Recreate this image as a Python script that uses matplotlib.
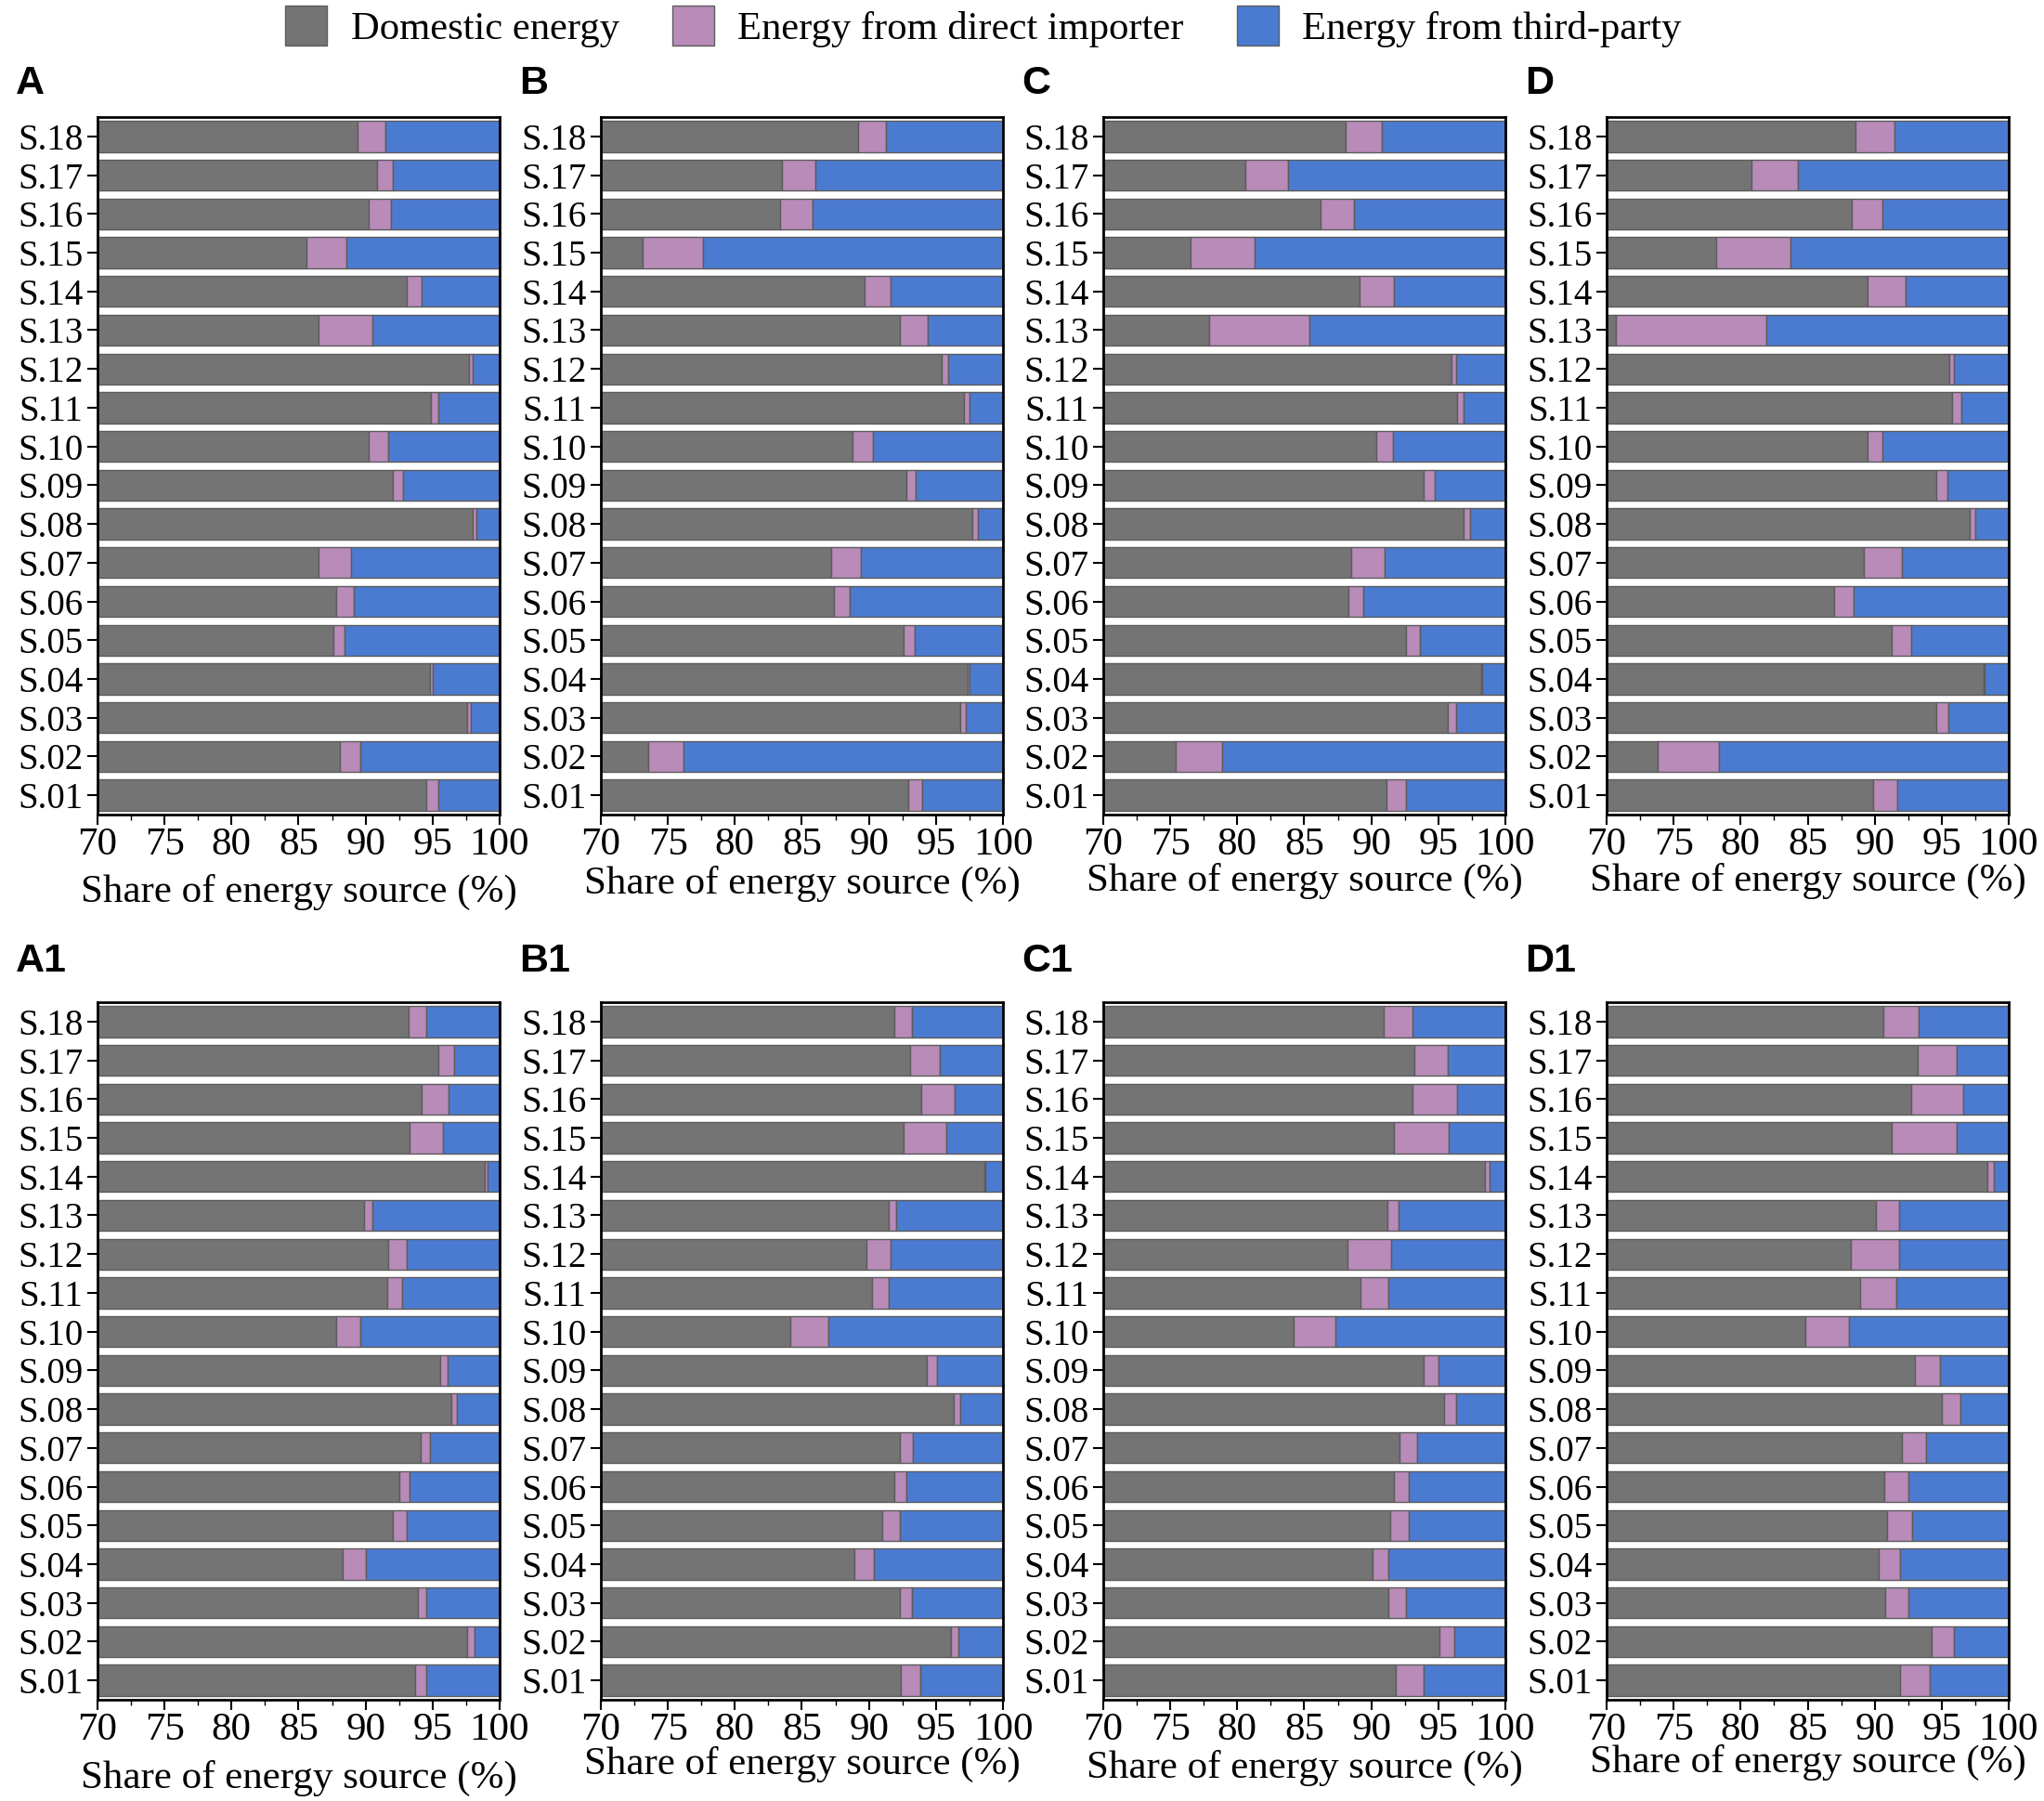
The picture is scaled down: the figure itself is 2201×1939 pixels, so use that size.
import numpy as np
import matplotlib
matplotlib.use('Agg')
import matplotlib.pyplot as plt
from matplotlib.patches import Patch
from matplotlib.ticker import MultipleLocator

plt.rcParams['font.family'] = ['Liberation Serif', 'DejaVu Serif']

sectors = ['S.%02d' % i for i in range(1, 19)]
series_names = ['Domestic energy', 'Energy from direct importer', 'Energy from third-party']
colors = ['#747474', '#b88bb9', '#4b7bd1']
edge = '#5c5c5c'

# domestic share and direct-importer share (%), S.01 ... S.18
dom_A = [94.5, 88.1, 97.6, 94.8, 87.6, 87.8, 86.5, 98.0, 92.05, 90.2, 94.9, 97.7, 86.5, 93.1, 85.6, 90.2, 90.85, 89.4]
imp_A = [0.9, 1.5, 0.25, 0.2, 0.8, 1.3, 2.4, 0.3, 0.75, 1.5, 0.5, 0.3, 4.0, 1.05, 3.0, 1.7, 1.15, 2.1]

dom_B = [92.9, 73.5, 96.8, 97.4, 92.6, 87.4, 87.2, 97.7, 92.8, 88.8, 97.1, 95.4, 92.3, 89.7, 73.1, 83.4, 83.5, 89.2]
imp_B = [1.1, 2.7, 0.4, 0.1, 0.8, 1.2, 2.2, 0.4, 0.7, 1.5, 0.4, 0.5, 2.1, 1.9, 4.5, 2.4, 2.5, 2.1]

dom_C = [91.1, 75.4, 95.7, 98.2, 92.6, 88.3, 88.5, 96.9, 93.9, 90.4, 96.4, 96.0, 77.9, 89.1, 76.5, 86.2, 80.6, 88.1]
imp_C = [1.5, 3.5, 0.6, 0.1, 1.0, 1.1, 2.5, 0.5, 0.8, 1.2, 0.5, 0.3, 7.5, 2.6, 4.8, 2.5, 3.2, 2.7]

dom_D = [89.9, 73.8, 94.6, 98.1, 91.3, 87.0, 89.2, 97.1, 94.6, 89.5, 95.8, 95.6, 70.7, 89.5, 78.2, 88.3, 80.8, 88.6]
imp_D = [1.8, 4.6, 0.9, 0.1, 1.4, 1.4, 2.8, 0.4, 0.8, 1.1, 0.7, 0.3, 11.2, 2.8, 5.5, 2.3, 3.5, 2.9]

dom_A1 = [93.7, 97.6, 93.9, 88.3, 92.0, 92.5, 94.1, 96.4, 95.6, 87.8, 91.6, 91.7, 89.9, 98.9, 93.3, 94.2, 95.4, 93.2]
imp_A1 = [0.8, 0.5, 0.6, 1.7, 1.1, 0.8, 0.7, 0.4, 0.5, 1.8, 1.1, 1.4, 0.6, 0.2, 2.5, 2.0, 1.2, 1.3]

dom_B1 = [92.4, 96.1, 92.3, 88.9, 91.0, 91.9, 92.3, 96.3, 94.3, 84.1, 90.2, 89.8, 91.5, 98.6, 92.6, 93.9, 93.1, 91.9]
imp_B1 = [1.4, 0.6, 0.9, 1.5, 1.3, 0.9, 1.0, 0.5, 0.8, 2.9, 1.3, 1.8, 0.5, 0.1, 3.2, 2.5, 2.2, 1.3]

dom_C1 = [91.8, 95.1, 91.3, 90.1, 91.4, 91.7, 92.1, 95.4, 93.9, 84.2, 89.2, 88.2, 91.2, 98.5, 91.7, 93.1, 93.2, 90.95]
imp_C1 = [2.1, 1.1, 1.3, 1.2, 1.4, 1.1, 1.3, 0.9, 1.1, 3.1, 2.1, 3.3, 0.8, 0.3, 4.1, 3.3, 2.5, 2.15]

dom_D1 = [91.9, 94.25, 90.8, 90.3, 90.9, 90.7, 92.0, 95.0, 93.0, 84.8, 88.9, 88.25, 90.06, 98.4, 91.25, 92.7, 93.2, 90.65]
imp_D1 = [2.2, 1.65, 1.7, 1.6, 1.9, 1.8, 1.8, 1.4, 1.9, 3.3, 2.7, 3.55, 1.74, 0.5, 4.85, 3.9, 2.9, 2.65]

panels = [
    ('A', dom_A, imp_A), ('B', dom_B, imp_B), ('C', dom_C, imp_C), ('D', dom_D, imp_D),
    ('A1', dom_A1, imp_A1), ('B1', dom_B1, imp_B1), ('C1', dom_C1, imp_C1), ('D1', dom_D1, imp_D1),
]

W, H = 2201, 1939
fig = plt.figure(figsize=(W / 100, H / 100), dpi=100)

col_left = [105, 647, 1188, 1730]
col_w = 433
row_top = [126, 1079]
row_h = 751
label_gap = [25, 33]
xlabel_pad = [[8, 2, 0, 0], [9, -2, 1, -3]]

y = np.arange(len(sectors))
for k, (name, dom, imp) in enumerate(panels):
    r, c = divmod(k, 4)
    ax = fig.add_axes([col_left[c] / W, 1 - (row_top[r] + row_h) / H, col_w / W, row_h / H])
    dom = np.array(dom)
    imp = np.array(imp)
    third = 100 - dom - imp
    ax.barh(y, dom, height=0.8, color=colors[0], edgecolor=edge, linewidth=1.0)
    ax.barh(y, imp, left=dom, height=0.8, color=colors[1], edgecolor=edge, linewidth=1.0)
    ax.barh(y, third, left=dom + imp, height=0.8, color=colors[2], edgecolor=edge, linewidth=1.0)
    ax.set_xlim(70, 100)
    ax.set_ylim(-0.5, len(sectors) - 0.5)
    ax.set_yticks(y)
    ax.set_yticklabels(sectors, fontsize=28)
    ax.xaxis.set_major_locator(MultipleLocator(5))
    ax.xaxis.set_minor_locator(MultipleLocator(2.5))
    ax.tick_params(axis='x', labelsize=31, length=8, width=1.5, pad=2)
    ax.tick_params(axis='x', which='minor', length=4, width=1)
    ax.tick_params(axis='y', length=8, width=1.5, pad=3)
    for sp in ax.spines.values():
        sp.set_linewidth(2)
    ax.set_xlabel('Share of energy source (%)', fontsize=31, labelpad=xlabel_pad[r][c])
    fig.text((col_left[c] - 88) / W, 1 - (row_top[r] - label_gap[r]) / H, name,
             family='Liberation Sans', fontweight='bold', fontsize=31,
             ha='left', va='baseline')

handles = [Patch(facecolor=colors[i], edgecolor=edge, label=series_names[i]) for i in range(3)]
fig.legend(handles=handles, loc='upper center', bbox_to_anchor=(1059 / W, 1.0), ncol=3,
           frameon=False, fontsize=30.7, handlelength=1.06, handleheight=1.15,
           handletextpad=0.6, columnspacing=1.33, borderpad=0.05, borderaxespad=0.1)

fig.savefig('out.png', dpi=100)
